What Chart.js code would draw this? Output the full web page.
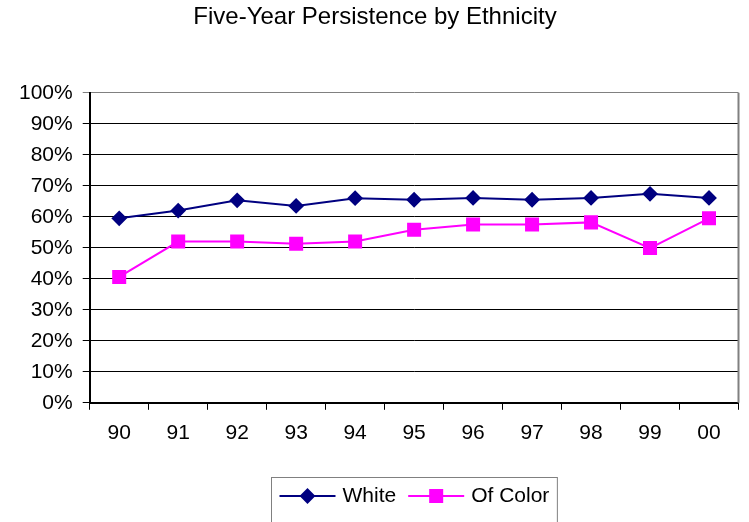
<!DOCTYPE html>
<html>
<head>
<meta charset="utf-8">
<script src="https://cdn.jsdelivr.net/npm/chart.js@4"></script>
<style>
  html, body { margin: 0; padding: 0; background: #fff; }
  #wrap { width: 749px; height: 522px; }
</style>
</head>
<body>
<div id="wrap"><canvas id="c"></canvas></div>
<script>
// Cohort years and five-year persistence rates (percent)
const years = ['90', '91', '92', '93', '94', '95', '96', '97', '98', '99', '00'];
const white = [59.5, 62.0, 65.3, 63.5, 66.0, 65.5, 66.1, 65.5, 66.1, 67.4, 66.1];
const ofColor = [40.6, 52.0, 52.0, 51.3, 52.0, 55.8, 57.5, 57.5, 58.2, 49.9, 59.5];
const yTicks = [0, 10, 20, 30, 40, 50, 60, 70, 80, 90, 100];

const FONT = '"Liberation Sans", Arial, sans-serif';
const NAVY = '#000080';
const MAGENTA = '#FF00FF';

// Right-hand frame of the plot area
const frame = {
  id: 'frame',
  afterDatasetsDraw(chart) {
    const { ctx, chartArea: a } = chart;
    ctx.save();
    ctx.strokeStyle = '#808080';
    ctx.lineWidth = 2;
    ctx.beginPath();
    ctx.moveTo(a.right, a.top);
    ctx.lineTo(a.right, a.bottom);
    ctx.stroke();
    ctx.restore();
  }
};

// Boxed legend below the axis: line sample with marker, then the label
const boxLegend = {
  id: 'boxLegend',
  afterDraw(chart) {
    const { ctx, chartArea: a } = chart;
    const lineLen = 56, gap = 7, spacing = 12, pad = 8;
    const top = 477, midY = 496;
    ctx.save();
    ctx.font = '21px ' + FONT;
    const items = chart.data.datasets.map(ds => ({ ds, w: ctx.measureText(ds.label).width }));
    let total = pad * 2;
    items.forEach((it, i) => { total += lineLen + gap + it.w + (i < items.length - 1 ? spacing : 0); });
    const cx = (a.left + a.right) / 2;
    const left = Math.round(cx - total / 2) + 0.5;
    ctx.strokeStyle = '#808080';
    ctx.lineWidth = 1;
    ctx.strokeRect(left, top + 0.5, total, 80);
    let x = left + pad;
    items.forEach(it => {
      const ds = it.ds;
      ctx.strokeStyle = ds.borderColor;
      ctx.lineWidth = ds.borderWidth;
      ctx.beginPath();
      ctx.moveTo(x, midY);
      ctx.lineTo(x + lineLen, midY);
      ctx.stroke();
      ctx.fillStyle = ds.pointBackgroundColor;
      Chart.helpers.drawPoint(ctx, {
        pointStyle: ds.pointStyle, radius: ds.pointRadius, borderWidth: 1, rotation: 0
      }, x + lineLen / 2, midY);
      ctx.fill();
      x += lineLen + gap;
      ctx.fillStyle = '#000';
      ctx.textBaseline = 'middle';
      ctx.textAlign = 'left';
      ctx.fillText(ds.label, x, midY);
      x += it.w + spacing;
    });
    ctx.restore();
  }
};

new Chart(document.getElementById('c'), {
  type: 'line',
  data: {
    labels: years,
    datasets: [
      {
        label: 'White',
        data: white,
        borderColor: NAVY,
        backgroundColor: NAVY,
        pointBackgroundColor: NAVY,
        pointBorderColor: NAVY,
        borderWidth: 2,
        pointStyle: 'rectRot',
        pointRadius: 6.5,
        pointHoverRadius: 6.5,
        tension: 0
      },
      {
        label: 'Of Color',
        data: ofColor,
        borderColor: MAGENTA,
        backgroundColor: MAGENTA,
        pointBackgroundColor: MAGENTA,
        pointBorderColor: MAGENTA,
        borderWidth: 2,
        pointStyle: 'rect',
        pointRadius: 8.5,
        pointHoverRadius: 8.5,
        tension: 0
      }
    ]
  },
  options: {
    responsive: true,
    maintainAspectRatio: false,
    animation: false,
    layout: { padding: { left: 9, right: 8, top: 0, bottom: 65 } },
    plugins: {
      legend: { display: false },
      tooltip: { enabled: false },
      title: {
        display: true,
        text: 'Five-Year Persistence by Ethnicity',
        color: '#000',
        font: { family: FONT, size: 24, weight: 'normal' },
        padding: { top: 3, bottom: 61 }
      }
    },
    scales: {
      x: {
        offset: true,
        grid: {
          offset: true,
          drawOnChartArea: false,
          drawTicks: true,
          tickLength: 7,
          color: '#000'
        },
        border: { color: '#000', width: 2 },
        ticks: { color: '#000', font: { family: FONT, size: 21 }, padding: 11, maxRotation: 0 }
      },
      y: {
        min: 0,
        max: 100,
        afterBuildTicks(scale) { scale.ticks = yTicks.map(v => ({ value: v })); },
        grid: {
          color: ctx => (ctx.tick && ctx.tick.value === 100 ? '#808080' : '#000'),
          lineWidth: 1,
          drawTicks: true,
          tickLength: 7
        },
        border: { color: '#000', width: 2 },
        ticks: {
          color: '#000',
          font: { family: FONT, size: 21 },
          padding: 10,
          callback: v => v + '%'
        }
      }
    }
  },
  plugins: [frame, boxLegend]
});
</script>
</body>
</html>
